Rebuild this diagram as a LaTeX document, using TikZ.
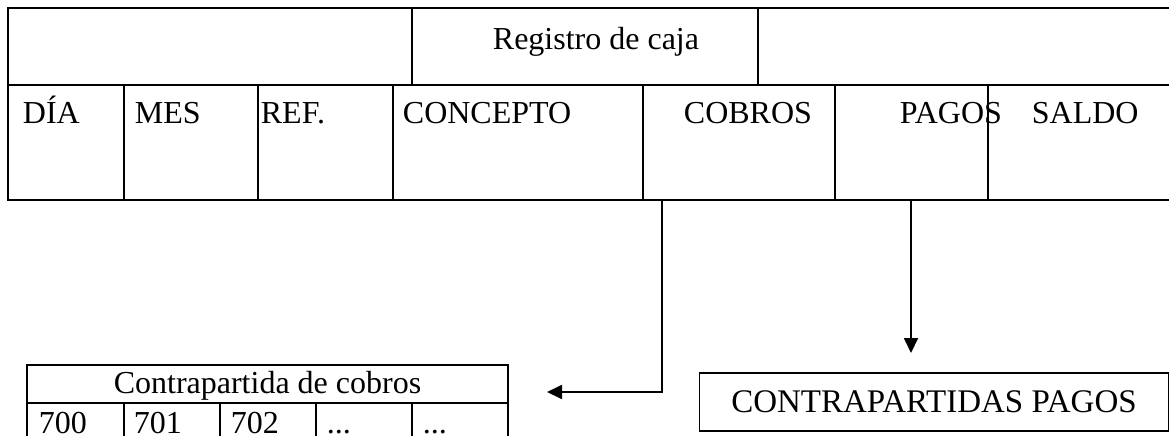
\documentclass[tikz,border=0pt]{standalone}
\usepackage{fontspec}
\setmainfont{Liberation Serif}
\usetikzlibrary{arrows.meta}
\begin{document}
\begin{tikzpicture}[x=1pt,y=-1pt,line width=1.8pt,
  txt/.style={font=\fontsize{32}{38}\selectfont,inner sep=0pt,anchor=base west},
  ctxt/.style={font=\fontsize{32}{38}\selectfont,inner sep=0pt,anchor=base},
  arr/.style={-{Triangle[length=15pt,width=14pt]}},
  boxed/.style={draw,line width=1.8pt,inner sep=0pt,minimum width=469pt,minimum height=58pt,font=\fontsize{33}{39}\selectfont}]
\useasboundingbox (0,0) rectangle (1169,436);
\clip (0,0) rectangle (1169,436);
% top table
\draw (1180,8) -- (8,8) -- (8,200) -- (1180,200);
\draw (8,85) -- (1180,85);
\draw (412,8) -- (412,85);
\draw (758,8) -- (758,85);
\foreach \x in {124,258,393,643,835,988} \draw (\x,85) -- (\x,200);
\node[txt] (reg) at (492,49) {Registro de caja};
\node[txt] (dia) at (22,123) {DÍA};
\node[txt] (mes) at (134,123) {MES};
\node[txt] (ref) at (260,123) {REF.};
\node[txt] (con) at (402,123) {CONCEPTO};
\node[txt] (cob) at (683,123) {COBROS};
\node[txt] (pag) at (899,123) {PAGOS};
\node[txt] (sal) at (1031,123) {SALDO};
% lower-left table
\draw (27,450) -- (27,365) -- (508,365) -- (508,450);
\draw (27,403) -- (508,403);
\foreach \x in {124,220,316,412} \draw (\x,403) -- (\x,450);
\node[ctxt] (ctit) at (267.5,393) {Contrapartida de cobros};
\node[txt] (n700) at (38,433) {700};
\node[txt] (n701) at (133,433) {701};
\node[txt] (n702) at (230,433) {702};
\node[txt] (d1) at (326,433) {...};
\node[txt] (d2) at (422,433) {...};
% right box
\node[boxed] (cpag) at (934,402) {CONTRAPARTIDAS PAGOS};
% connectors
\coordinate (cobout) at (662,200);
\coordinate (cobtip) at (547,392);
\coordinate (pagout) at (911,200);
\coordinate (pagtip) at (911,353);
\draw[arr] (cobout) |- (cobtip);
\draw[arr] (pagout) -- (pagtip);
\end{tikzpicture}
\end{document}
